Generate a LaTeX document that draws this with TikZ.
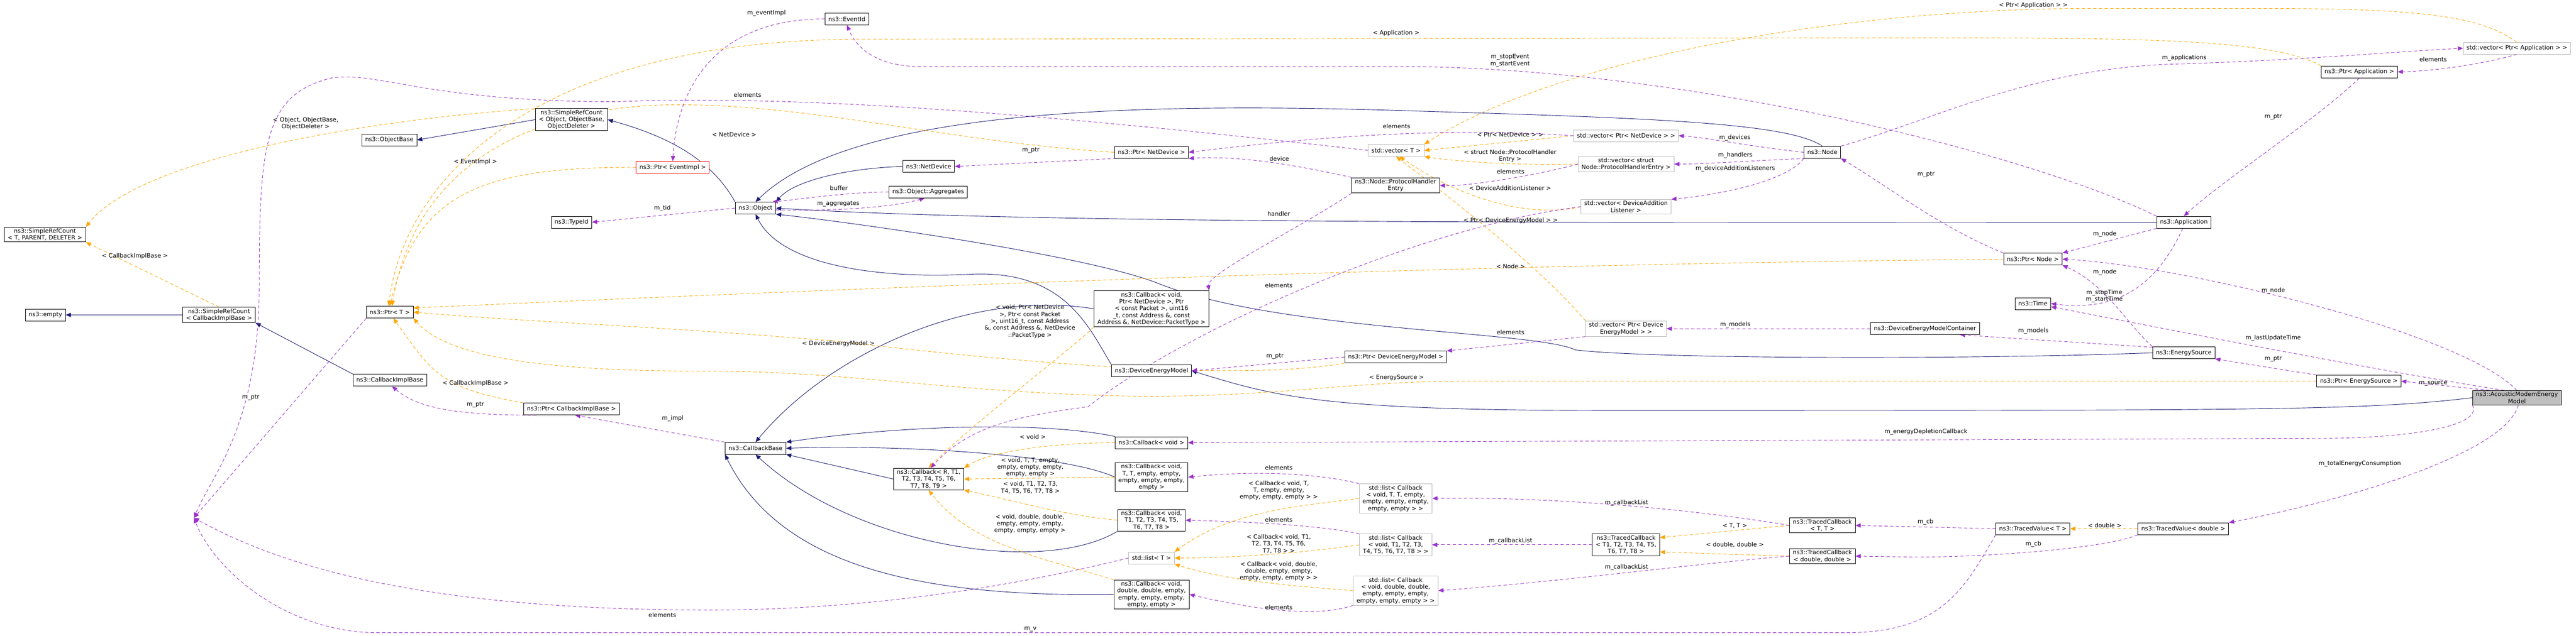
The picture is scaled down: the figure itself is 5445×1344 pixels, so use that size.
\documentclass[tikz,border=0pt]{standalone}
\usepackage{fontspec}
\setmainfont{DejaVu Sans}
\usetikzlibrary{arrows.meta}
\newcommand\dfont{\fontsize{12.5}{14.5}\selectfont}
\definecolor{navyc}{HTML}{191970}
\definecolor{orangec}{HTML}{FFA500}
\definecolor{purplec}{HTML}{9A32CD}
\pgfdeclarelayer{bgl}
\pgfdeclarelayer{edges}
\pgfsetlayers{bgl,edges,main}
\tikzset{
 cls/.style={draw=black,line width=1pt,fill=white,font=\dfont,align=center,inner xsep=7pt,inner ysep=3pt,minimum height=25pt},
 tmpl/.style={cls,draw=black!28},
 lbl/.style={font=\dfont,align=center,inner sep=0pt},
 inh/.style={draw=navyc,line width=1pt,-{Triangle[length=11pt,width=9pt]}},
 tpl/.style={draw=orangec,line width=1pt,dash pattern=on 7pt off 5pt,-{Triangle[length=11pt,width=9pt]}},
 use/.style={draw=purplec,line width=1pt,dash pattern=on 7pt off 5pt,-{Triangle[length=11pt,width=9pt]}},
}
\begin{document}
\begin{tikzpicture}[x=1pt,y=-1pt]
\begin{pgfonlayer}{bgl}
\fill[white] (0,0) rectangle (5445,1344);
\end{pgfonlayer}
\useasboundingbox (0,0) rectangle (5445,1344);
% nodes
\node[cls] (srcT) at (95,496) {ns3::SimpleRefCount\\< T, PARENT, DELETER >};
\node[cls] (empty) at (96,666) {ns3::empty};
\node[cls] (srcCIB) at (463,666) {ns3::SimpleRefCount\\< CallbackImplBase >};
\node[cls] (srcObj) at (1208,253) {ns3::SimpleRefCount\\< Object, ObjectBase,\\ ObjectDeleter >};
\node[cls] (objbase) at (823,296) {ns3::ObjectBase};
\node[cls,draw=red] (ptrEvt) at (1422,354) {ns3::Ptr< EventImpl >};
\node[cls] (eventid) at (1790,40) {ns3::EventId};
\node[cls] (typeid) at (1208,470) {ns3::TypeId};
\node[cls] (object) at (1597,440) {ns3::Object};
\node[cls] (aggr) at (1962,406) {ns3::Object::Aggregates};
\node[cls] (netdev) at (1963,352) {ns3::NetDevice};
\node[cls] (ptrND) at (2434,322) {ns3::Ptr< NetDevice >};
\node[cls] (ptrT) at (824,660) {ns3::Ptr< T >};
\node[cls] (cib) at (824,804) {ns3::CallbackImplBase};
\node[cls] (ptrCIB) at (1208,865) {ns3::Ptr< CallbackImplBase >};
\node[cls] (cbND) at (2434,653) {ns3::Callback< void,\\ Ptr< NetDevice >, Ptr\\< const Packet >, uint16\\\_t, const Address \&, const\\ Address \&, NetDevice::PacketType >};
\node[cls] (dem) at (2434,784) {ns3::DeviceEnergyModel};
\node[cls] (cbBase) at (1597,948) {ns3::CallbackBase};
\node[cls] (cbR) at (1963,1013) {ns3::Callback< R, T1,\\ T2, T3, T4, T5, T6,\\ T7, T8, T9 >};
\node[cls] (cbV) at (2434,936) {ns3::Callback< void >};
\node[cls] (cbTT) at (2434,1009) {ns3::Callback< void,\\ T, T, empty, empty,\\ empty, empty, empty,\\ empty >};
\node[cls] (cbT18) at (2434,1100) {ns3::Callback< void,\\ T1, T2, T3, T4, T5,\\ T6, T7, T8 >};
\node[tmpl] (listT) at (2434,1180) {std::list< T >};
\node[cls] (cbDD) at (2434,1257) {ns3::Callback< void,\\ double, double, empty,\\ empty, empty, empty,\\ empty, empty >};
\node[tmpl] (vecT) at (2951,318) {std::vector< T >};
\node[cls] (phe) at (2950,392) {ns3::Node::ProtocolHandler\\Entry};
\node[cls] (ptrDEM) at (2950,755) {ns3::Ptr< DeviceEnergyModel >};
\node[tmpl] (lTT) at (2950,1054) {std::list< Callback\\< void, T, T, empty,\\ empty, empty, empty,\\ empty, empty > >};
\node[tmpl] (lT18) at (2950,1152) {std::list< Callback\\< void, T1, T2, T3,\\ T4, T5, T6, T7, T8 > >};
\node[tmpl] (lDD) at (2950,1249) {std::list< Callback\\< void, double, double,\\ empty, empty, empty,\\ empty, empty, empty > >};
\node[tmpl] (vecND) at (3437,287) {std::vector< Ptr< NetDevice > >};
\node[tmpl] (vecPHE) at (3437,347) {std::vector< struct\\ Node::ProtocolHandlerEntry >};
\node[tmpl] (vecDAL) at (3437,437) {std::vector< DeviceAddition\\Listener >};
\node[tmpl] (vecDEM) at (3437,695) {std::vector< Ptr< Device\\EnergyModel > >};
\node[cls] (tcT18) at (3437,1152) {ns3::TracedCallback\\< T1, T2, T3, T4, T5,\\ T6, T7, T8 >};
\node[cls] (node) at (3852,322) {ns3::Node};
\node[cls] (tcTT) at (3852,1111) {ns3::TracedCallback\\< T, T >};
\node[cls] (tcDD) at (3852,1176) {ns3::TracedCallback\\< double, double >};
\node[cls] (demc) at (4069,695) {ns3::DeviceEnergyModelContainer};
\node[cls] (time) at (4297,642) {ns3::Time};
\node[cls] (ptrNode) at (4297,548) {ns3::Ptr< Node >};
\node[cls] (tvT) at (4297,1118) {ns3::TracedValue< T >};
\node[cls] (app) at (4616,470) {ns3::Application};
\node[cls] (es) at (4616,746) {ns3::EnergySource};
\node[cls] (tvD) at (4615,1118) {ns3::TracedValue< double >};
\node[cls] (ptrApp) at (4987,152) {ns3::Ptr< Application >};
\node[cls] (ptrES) at (4986,806) {ns3::Ptr< EnergySource >};
\node[tmpl] (vecApp) at (5320,102) {std::vector< Ptr< Application > >};
\node[cls,fill=black!25] (amem) at (5320,841) {ns3::AcousticModemEnergy\\Model};
\coordinate (hub) at (410,1095);
% labels
\node[lbl] (l1) at (646,261) {< Object, ObjectBase,\\ ObjectDeleter >};
\node[lbl] (l2) at (285,542) {< CallbackImplBase >};
\node[lbl] (l3) at (1005,342) {< EventImpl >};
\node[lbl] (l4) at (1620,28) {m\_eventImpl};
\node[lbl] (l5) at (1552,285) {< NetDevice >};
\node[lbl] (l6) at (1580,201) {elements};
\node[lbl] (l7) at (1400,440) {m\_tid};
\node[lbl] (l8) at (1773,398) {buffer};
\node[lbl] (l9) at (1772,431) {m\_aggregates};
\node[lbl] (l10) at (2179,318) {m\_ptr};
\node[lbl] (l11) at (2951,70) {< Application >};
\node[lbl] (l12) at (3192,128) {m\_stopEvent\\m\_startEvent};
\node[lbl] (l13) at (2952,267) {elements};
\node[lbl] (l14) at (3192,285) {< Ptr< NetDevice > >};
\node[lbl] (l15) at (3192,330) {< struct Node::ProtocolHandler\\Entry >};
\node[lbl] (l16) at (3193,363) {elements};
\node[lbl] (l17) at (3192,398) {< DeviceAdditionListener >};
\node[lbl] (l18) at (2704,336) {device};
\node[lbl] (l19) at (2703,452) {handler};
\node[lbl] (l20) at (3193,466) {< Ptr< DeviceEnergyModel > >};
\node[lbl] (l21) at (3667,291) {m\_devices};
\node[lbl] (l22) at (3668,328) {m\_handlers};
\node[lbl] (l23) at (3668,357) {m\_deviceAdditionListeners};
\node[lbl] (l24) at (4298,11) {< Ptr< Application > >};
\node[lbl] (l25) at (4617,122) {m\_applications};
\node[lbl] (l26) at (5143,126) {elements};
\node[lbl] (l27) at (4805,247) {m\_ptr};
\node[lbl] (l28) at (4071,369) {m\_ptr};
\node[lbl] (l29) at (4449,495) {m\_node};
\node[lbl] (l30) at (4449,575) {m\_node};
\node[lbl] (l31) at (1005,811) {< CallbackImplBase >};
\node[lbl] (l32) at (1005,856) {m\_ptr};
\node[lbl] (l33) at (1422,885) {m\_impl};
\node[lbl] (l34) at (2177,680) {< void, Ptr< NetDevice\\ >, Ptr< const Packet\\ >, uint16\_t, const Address\\ \&, const Address \&, NetDevice\\ ::PacketType >};
\node[lbl] (l35) at (1772,727) {< DeviceEnergyModel >};
\node[lbl] (l36) at (2183,924) {< void >};
\node[lbl] (l37) at (2178,988) {< void, T, T, empty,\\ empty, empty, empty,\\ empty, empty >};
\node[lbl] (l38) at (2178,1031) {< void, T1, T2, T3,\\ T4, T5, T6, T7, T8 >};
\node[lbl] (l39) at (2177,1108) {< void, double, double,\\ empty, empty, empty,\\ empty, empty, empty >};
\node[lbl] (l40) at (2178,1330) {m\_v};
\node[lbl] (l41) at (2703,1037) {< Callback< void, T,\\ T, empty, empty,\\ empty, empty, empty > >};
\node[lbl] (l42) at (2703,1150) {< Callback< void, T1,\\ T2, T3, T4, T5, T6,\\ T7, T8 > >};
\node[lbl] (l43) at (2703,1208) {< Callback< void, double,\\ double, empty, empty,\\ empty, empty, empty > >};
\node[lbl] (l44) at (2703,989) {elements};
\node[lbl] (l45) at (2703,1099) {elements};
\node[lbl] (l46) at (2703,1284) {elements};
\node[lbl] (l47) at (3668,687) {m\_models};
\node[lbl] (l48) at (3193,703) {elements};
\node[lbl] (l49) at (2952,799) {< EnergySource >};
\node[lbl] (l50) at (2695,753) {m\_ptr};
\node[lbl] (l51) at (4071,913) {m\_energyDepletionCallback};
\node[lbl] (l52) at (3438,1063) {m\_callbackList};
\node[lbl] (l53) at (3193,1144) {m\_callbackList};
\node[lbl] (l54) at (3438,1199) {m\_callbackList};
\node[lbl] (l55) at (3667,1112) {< T, T >};
\node[lbl] (l56) at (3667,1152) {< double, double >};
\node[lbl] (l57) at (4070,1104) {m\_cb};
\node[lbl] (l58) at (4448,626) {m\_stopTime\\m\_startTime};
\node[lbl] (l59) at (4805,615) {m\_node};
\node[lbl] (l60) at (4298,700) {m\_models};
\node[lbl] (l61) at (4805,715) {m\_lastUpdateTime};
\node[lbl] (l62) at (4805,759) {m\_ptr};
\node[lbl] (l63) at (5143,811) {m\_source};
\node[lbl] (l64) at (4988,981) {m\_totalEnergyConsumption};
\node[lbl] (l65) at (4449,1111) {< double >};
\node[lbl] (l66) at (4298,1151) {m\_cb};
\node[lbl] (l67) at (3193,563) {< Node >};
\node[lbl] (l68) at (2703,603) {elements};
\node[lbl] (l69) at (530,840) {m\_ptr};
\node[lbl] (l70) at (1400,1300) {elements};
\begin{pgfonlayer}{edges}
% inheritance
\draw[inh] (srcCIB.west) -- (empty.east);
\draw[inh] (srcObj.west) -- (objbase.east);
\draw[inh] (object.north west) .. controls (1500,330) and (1400,285) .. (srcObj.east);
\draw[inh] (netdev.west) .. controls (1800,355) and (1680,380) .. (object.north east);
\draw[inh] (node.north) .. controls (3780,260) and (3500,250) .. (3000,235) .. controls (2400,215) and (1800,230) .. (object.north);
\draw[inh] (app.west) .. controls (3500,470) and (2200,475) .. (object.east);
\draw[inh] (es.west) .. controls (4200,760) and (3500,760) .. (3330,740) .. controls (3250,700) and (2700,700) .. (2450,600) .. controls (2300,540) and (1800,470) .. (object.south east);
\draw[inh] (dem.north west) .. controls (2300,690) and (2250,570) .. (2050,580) .. controls (1850,590) and (1650,560) .. (object.south);
\draw[inh] (amem.west) .. controls (5000,868) and (4800,868) .. (3400,868) .. controls (2800,868) and (2700,840) .. (dem.east);
\draw[inh] (cib.north west) -- (srcCIB.south east);
\draw[inh] (cbND.west) .. controls (2050,610) and (1750,750) .. (cbBase.north);
\draw[inh] (cbV.north west) .. controls (2200,890) and (1900,900) .. (cbBase.north east);
\draw[inh] (cbTT.west) .. controls (2250,960) and (1900,940) .. (cbBase.east);
\draw[inh] (cbR.west) -- (cbBase.south east);
\draw[inh] (cbT18.south west) .. controls (2200,1220) and (1800,1150) .. (cbBase.south);
\draw[inh] (cbDD.west) .. controls (1950,1263) and (1650,1200) .. (cbBase.south west);
% templates
\draw[tpl] (srcObj.160) .. controls (800,250) and (300,330) .. (srcT.north east);
\draw[tpl] (srcCIB.north) -- (srcT.south east);
\draw[tpl] (ptrEvt.west) .. controls (1000,352) and (880,420) .. (ptrT.north);
\draw[tpl] (ptrND.west) .. controls (2000,300) and (1700,215) .. (1400,222) .. controls (1150,230) and (880,330) .. (ptrT.70);
\draw[tpl] (ptrApp.north west) .. controls (4800,80) and (4500,80) .. (4000,80) -- (1800,83) .. controls (1100,90) and (850,400) .. (ptrT.100);
\draw[tpl] (ptrNode.west) .. controls (3000,560) and (1800,610) .. (ptrT.10);
\draw[tpl] (ptrDEM.south west) .. controls (2600,810) and (2100,760) .. (1772,722) .. controls (1400,690) and (1100,680) .. (ptrT.east);
\draw[tpl] (ptrES.west) -- (3100,806) .. controls (2850,806) and (2700,840) .. (2400,838) .. controls (2000,830) and (1800,785) .. (1500,785) .. controls (1170,785) and (950,760) .. (ptrT.south east);
\draw[tpl] (ptrCIB.north west) .. controls (930,820) and (915,790) .. (ptrT.-60);
\draw[tpl] (vecApp.north) .. controls (5250,40) and (5150,18) .. (4800,18) -- (4400,18) .. controls (3900,20) and (3300,120) .. (vecT.north east);
\draw[tpl] (vecND.west) -- (vecT.east);
\draw[tpl] (vecPHE.west) .. controls (3250,350) and (3100,345) .. (vecT.south east);
\draw[tpl] (vecDAL.west) .. controls (3250,460) and (3100,430) .. (vecT.-60);
\draw[tpl] (vecDEM.north west) .. controls (3250,560) and (3080,430) .. (vecT.south);
\draw[tpl] (cbND.south west) .. controls (2250,750) and (2050,900) .. (cbR.north);
\draw[tpl] (cbV.west) .. controls (2250,936) and (2100,950) .. (cbR.north east);
\draw[tpl] (cbTT.west) -- (cbR.east);
\draw[tpl] (cbT18.west) .. controls (2250,1090) and (2150,1060) .. (cbR.south east);
\draw[tpl] (cbDD.north west) .. controls (2200,1180) and (2050,1150) .. (cbR.south);
\draw[tpl] (lTT.west) .. controls (2750,1070) and (2600,1080) .. (listT.north east);
\draw[tpl] (lT18.west) .. controls (2750,1170) and (2600,1180) .. (listT.east);
\draw[tpl] (lDD.west) .. controls (2750,1240) and (2600,1230) .. (listT.south east);
\draw[tpl] (tcTT.west) -- (tcT18.12);
\draw[tpl] (tcDD.west) -- (tcT18.-12);
\draw[tpl] (tvD.west) -- (tvT.east);
% usage
\draw[use] (app.north west) .. controls (4300,330) and (3600,150) .. (3000,141) -- (1950,141) .. controls (1850,141) and (1810,100) .. (eventid.south);
\draw[use] (eventid.west) .. controls (1500,40) and (1430,200) .. (ptrEvt.north);
\draw[use] (object.west) -- (typeid.east);
\draw[use] (aggr.west) .. controls (1800,406) and (1700,420) .. (object.20);
\draw[use] (object.-5) .. controls (1750,447) and (1880,440) .. (aggr.-120);
\draw[use] (ptrND.-170) -- (netdev.east);
\draw[use] (vecND.west) .. controls (3000,265) and (2700,300) .. (ptrND.east);
\draw[use] (phe.north west) .. controls (2700,340) and (2600,330) .. (ptrND.south east);
\draw[use] (vecPHE.west) .. controls (3250,370) and (3100,395) .. (phe.east);
\draw[use] (phe.south west) .. controls (2750,480) and (2550,580) .. (cbND.north east);
\draw[use] (vecDAL.west) .. controls (3000,480) and (2500,700) .. (2300,860) .. controls (2150,880) and (2050,900) .. (cbR.80);
\draw[use] (node.west) .. controls (3700,310) and (3600,290) .. (vecND.east);
\draw[use] (node.200) .. controls (3700,340) and (3600,347) .. (vecPHE.east);
\draw[use] (node.south west) .. controls (3780,380) and (3650,410) .. (vecDAL.north east);
\draw[use] (node.north east) .. controls (4100,250) and (4300,140) .. (4617,135) .. controls (4900,125) and (5050,110) .. (vecApp.west);
\draw[use] (vecApp.south) .. controls (5250,135) and (5150,150) .. (ptrApp.east);
\draw[use] (ptrApp.south) .. controls (4900,250) and (4700,380) .. (app.north);
\draw[use] (app.south west) -- (ptrNode.north east);
\draw[use] (ptrNode.north west) .. controls (4100,480) and (4000,400) .. (node.south east);
\draw[use] (es.north west) .. controls (4500,690) and (4450,600) .. (ptrNode.south east);
\draw[use] (amem.north) .. controls (5200,700) and (4600,560) .. (ptrNode.east);
\draw[use] (app.-100) .. controls (4560,600) and (4480,660) .. (time.east);
\draw[use] (amem.150) .. controls (5000,780) and (4500,680) .. (time.-10);
\draw[use] (es.170) -- (demc.-10);
\draw[use] (demc.west) -- (vecDEM.east);
\draw[use] (vecDEM.south west) -- (ptrDEM.north east);
\draw[use] (ptrDEM.west) -- (dem.east);
\draw[use] (ptrES.north west) -- (es.south east);
\draw[use] (amem.165) -- (ptrES.east);
\draw[use] (amem.south west) .. controls (5250,900) and (5100,927) .. (4900,927) -- (cbV.east);
\draw[use] (amem.-80) .. controls (5300,950) and (5000,1050) .. (tvD.north east);
\draw[use] (tvT.west) -- (tcTT.east);
\draw[use] (tvD.south west) .. controls (4450,1160) and (4200,1178) .. (4050,1178) -- (tcDD.east);
\draw[use] (tvT.south west) .. controls (4150,1250) and (4100,1338) .. (3900,1338) -- (800,1338) .. controls (600,1338) and (450,1200) .. (hub);
\draw[use] (tcTT.west) .. controls (3600,1080) and (3300,1050) .. (lTT.east);
\draw[use] (tcT18.west) -- (lT18.east);
\draw[use] (tcDD.west) .. controls (3600,1190) and (3300,1230) .. (lDD.east);
\draw[use] (lTT.north west) .. controls (2780,1000) and (2650,995) .. (cbTT.east);
\draw[use] (lT18.north west) .. controls (2780,1110) and (2650,1104) .. (cbT18.east);
\draw[use] (lDD.south west) .. controls (2800,1300) and (2700,1300) .. (cbDD.east);
\draw[use] (ptrCIB.-170) .. controls (950,878) and (880,860) .. (cib.-70);
\draw[use] (cbBase.north west) -- (ptrCIB.-60);
\draw[use] (ptrT.south west) -- (hub);
\draw[use] (vecT.west) .. controls (2200,240) and (1700,200) .. (1300,215) .. controls (900,215) and (800,150) .. (700,165) .. controls (560,200) and (548,300) .. (548,600) .. controls (548,900) and (450,1000) .. (hub);
\draw[use] (listT.west) .. controls (2100,1250) and (1800,1290) .. (1500,1290) .. controls (900,1290) and (600,1200) .. (hub);
\end{pgfonlayer}
\end{tikzpicture}
\end{document}
